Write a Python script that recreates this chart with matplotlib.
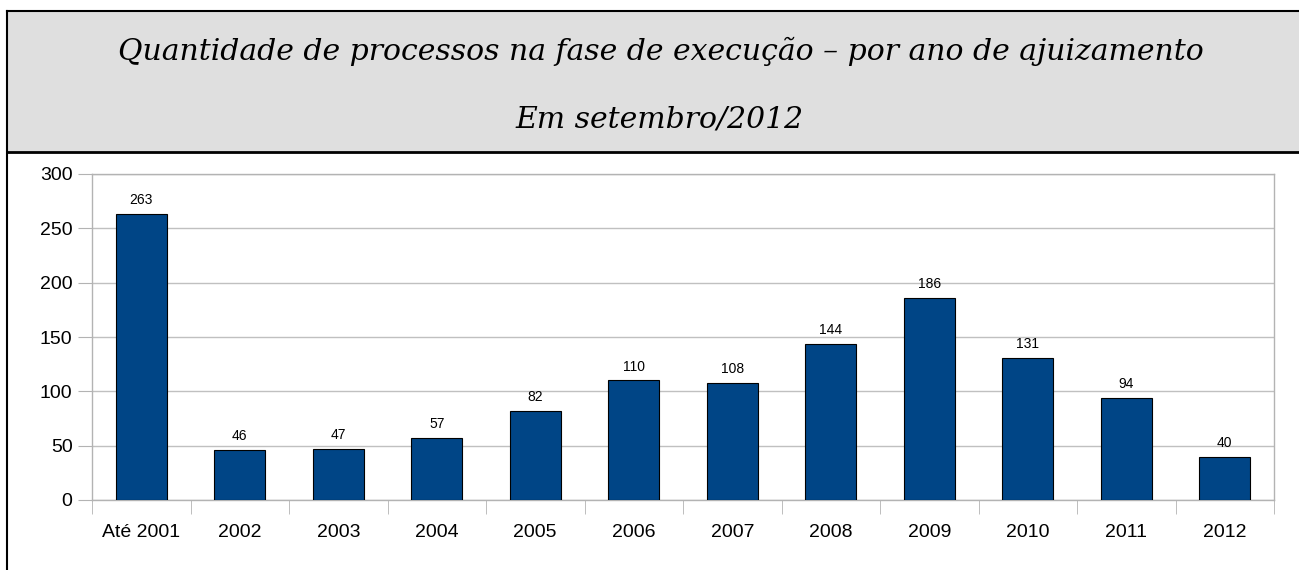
import matplotlib.pyplot as plt
from matplotlib.patches import Rectangle
from matplotlib.lines import Line2D

categories = ['Até 2001', '2002', '2003', '2004', '2005', '2006',
              '2007', '2008', '2009', '2010', '2011', '2012']
values = [263, 46, 47, 57, 82, 110, 108, 144, 186, 131, 94, 40]
yticks = [0, 50, 100, 150, 200, 250, 300]

title1 = 'Quantidade de processos na fase de execução – por ano de ajuizamento'
title2 = 'Em setembro/2012'

W, H = 1299, 570
fig = plt.figure(figsize=(W / 100, H / 100), dpi=100)
plt.rcParams['font.family'] = ['Liberation Sans', 'DejaVu Sans']

# grey header box
fig.patches.append(Rectangle((7 / W, 1 - 152 / H), 1 - 7 / W, (152 - 11) / H,
                             transform=fig.transFigure, facecolor='#dfdfdf',
                             edgecolor='none', zorder=0))
fig.lines.append(Line2D([7 / W, 1], [1 - 11 / H, 1 - 11 / H], transform=fig.transFigure,
                        color='black', lw=1.5))
fig.lines.append(Line2D([7 / W, 1], [1 - 152 / H, 1 - 152 / H], transform=fig.transFigure,
                        color='black', lw=2))
fig.lines.append(Line2D([7 / W, 7 / W], [0, 1 - 11 / H], transform=fig.transFigure,
                        color='black', lw=1.5))

fig.text(661 / W, 1 - 60 / H, title1, ha='center', va='baseline', fontsize=21.5,
         family='DejaVu Serif', style='italic')
fig.text(660 / W, 1 - 127 / H, title2, ha='center', va='baseline', fontsize=21.5,
         family='DejaVu Serif', style='italic')

ax = fig.add_axes([92 / W, 1 - 500 / H, (1274 - 92) / W, (500 - 174) / H])
x = list(range(len(categories)))
ax.bar(x, values, width=0.52, color='#004586', edgecolor='black', linewidth=0.8, zorder=3)
for xi, v in zip(x, values):
    ax.annotate(str(v), (xi, v), xytext=(0, 5), textcoords='offset points',
                ha='center', va='bottom', fontsize=10)

ax.set_xlim(-0.5, len(categories) - 0.5)
ax.set_ylim(0, 300)
ax.set_yticks(yticks)
ax.yaxis.grid(True, color='#c0c0c0', lw=1, zorder=0)
ax.tick_params(axis='y', length=10, color='#b3b3b3', labelsize=14, pad=4)

ax.set_xticks(x)
ax.set_xticklabels(categories)
ax.tick_params(axis='x', length=0, labelsize=14, pad=17)
ax.set_xticks([i - 0.5 for i in range(len(categories) + 1)], minor=True)
ax.tick_params(axis='x', which='minor', length=10, color='#b3b3b3')

for s in ax.spines.values():
    s.set_color('#b3b3b3')
    s.set_linewidth(1)

fig.savefig('out.png', dpi=100)
